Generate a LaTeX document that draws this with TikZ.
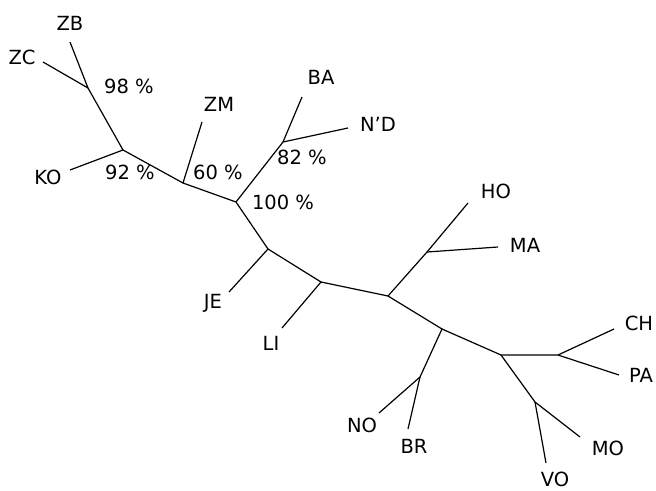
\documentclass[tikz,border=0pt]{standalone}
\usepackage{fontspec}
\setmainfont{DejaVu Sans}
\begin{document}
\begin{tikzpicture}[x=1pt,y=-1pt,
  br/.style={line width=1.2pt},
  lab/.style={font=\fontsize{19.5}{20}\selectfont, inner sep=0pt},
  pct/.style={font=\fontsize{19.5}{20}\selectfont, inner sep=0pt}]
\useasboundingbox (0,0) rectangle (656,490);
% internal nodes
\coordinate (n98) at (88,88);
\coordinate (n92) at (123,150);
\coordinate (n60) at (183,183);
\coordinate (n100) at (236,202);
\coordinate (n82) at (283,142);
\coordinate (nJE) at (268,249);
\coordinate (nLI) at (321,282);
\coordinate (nC) at (388,296);
\coordinate (nHM) at (427,252);
\coordinate (nD) at (442,329);
\coordinate (nNB) at (420,377);
\coordinate (nE) at (501,355);
\coordinate (nCP) at (558,355);
\coordinate (nMV) at (535,402);
% leaf ends
\coordinate (lZB) at (70,42);
\coordinate (lZC) at (43,62);
\coordinate (lKO) at (70,170);
\coordinate (lZM) at (202,122);
\coordinate (lBA) at (302,97);
\coordinate (lND) at (348,128);
\coordinate (lJE) at (229,292);
\coordinate (lLI) at (282,328);
\coordinate (lHO) at (468,203);
\coordinate (lMA) at (498,247);
\coordinate (lNO) at (379,413);
\coordinate (lBR) at (408,429);
\coordinate (lCH) at (614,329);
\coordinate (lPA) at (619,375);
\coordinate (lMO) at (580,437);
\coordinate (lVO) at (546,463);
% branches
\draw[br] (lZB) -- (n98) -- (lZC);
\draw[br] (n98) -- (n92) -- (lKO);
\draw[br] (n92) -- (n60) -- (lZM);
\draw[br] (n60) -- (n100) -- (n82) -- (lBA);
\draw[br] (n82) -- (lND);
\draw[br] (n100) -- (nJE) -- (lJE);
\draw[br] (nJE) -- (nLI) -- (lLI);
\draw[br] (nLI) -- (nC) -- (nHM) -- (lHO);
\draw[br] (nHM) -- (lMA);
\draw[br] (nC) -- (nD) -- (nNB) -- (lNO);
\draw[br] (nNB) -- (lBR);
\draw[br] (nD) -- (nE) -- (nCP) -- (lCH);
\draw[br] (nCP) -- (lPA);
\draw[br] (nE) -- (nMV) -- (lMO);
\draw[br] (nMV) -- (lVO);
% labels
\node[lab] (tZB) at (70,23) {ZB};
\node[lab] (tZC) at (22,57) {ZC};
\node[lab] (tKO) at (48,177) {KO};
\node[lab] (tZM) at (219,104) {ZM};
\node[lab] (tBA) at (321,77) {BA};
\node[lab] (tND) at (378,124) {N’D};
\node[lab] (tJE) at (213,303) {JE};
\node[lab] (tLI) at (271,343) {LI};
\node[lab] (tHO) at (496,191) {HO};
\node[lab] (tMA) at (525,245) {MA};
\node[lab] (tNO) at (362,425) {NO};
\node[lab] (tBR) at (414,446) {BR};
\node[lab] (tCH) at (639,323) {CH};
\node[lab] (tPA) at (641,375) {PA};
\node[lab] (tMO) at (608,448) {MO};
\node[lab] (tVO) at (555,479) {VO};
% support values
\node[pct] (p98) at (129,86) {98 \%};
\node[pct] (p92) at (130,172) {92 \%};
\node[pct] (p60) at (218,172) {60 \%};
\node[pct] (p82) at (302,157) {82 \%};
\node[pct] (p100) at (283,202) {100 \%};
\end{tikzpicture}
\end{document}
